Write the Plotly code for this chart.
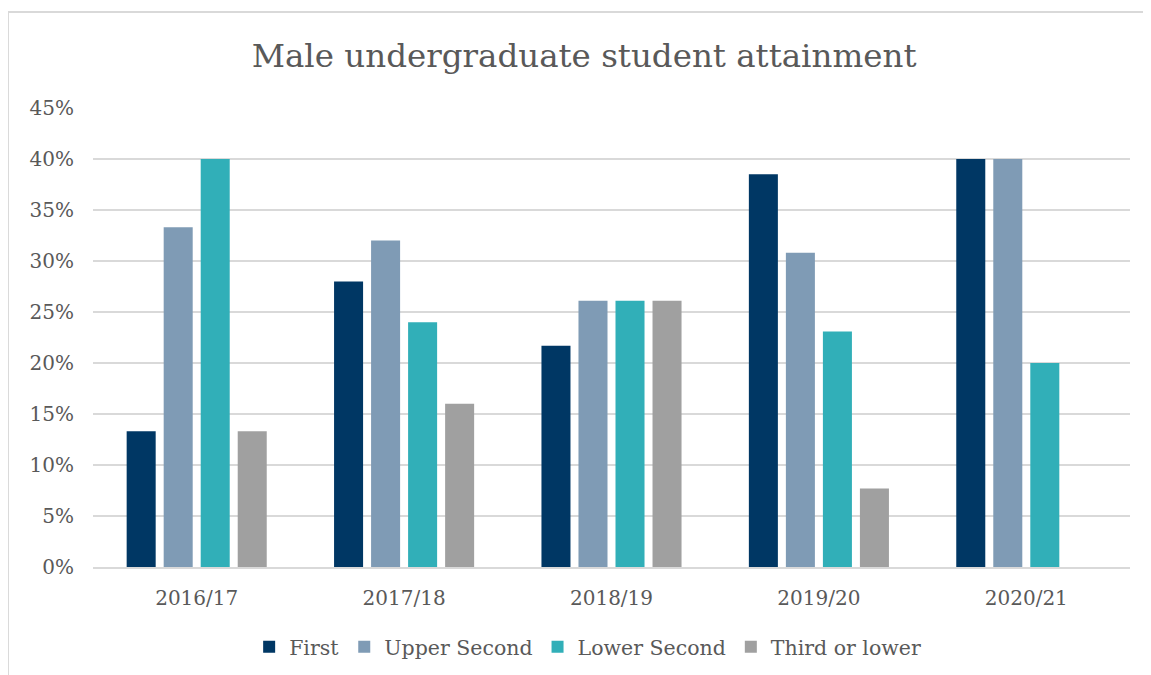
import plotly.graph_objects as go

years = ["2016/17", "2017/18", "2018/19", "2019/20", "2020/21"]
first = [13.3, 28.0, 21.7, 38.5, 40.0]
upper_second = [33.3, 32.0, 26.1, 30.8, 40.0]
lower_second = [40.0, 24.0, 26.1, 23.1, 20.0]
third_or_lower = [13.3, 16.0, 26.1, 7.7, 0.0]

series_names = ["First", "Upper Second", "Lower Second", "Third or lower"]
series_values = [first, upper_second, lower_second, third_or_lower]
colors = ["#003764", "#7f9bb5", "#31afb8", "#a0a0a0"]

font_family = "DejaVu Serif, Liberation Serif, serif"
text_color = "#595959"

fig = go.Figure()
for name, vals, col in zip(series_names, series_values, colors):
    fig.add_trace(go.Bar(x=years, y=[v / 100 for v in vals], name=name,
                         marker=dict(color=col, line=dict(width=0))))

fig.update_layout(
    width=1151, height=675,
    paper_bgcolor="white", plot_bgcolor="white",
    barmode="group", bargap=0.286, bargroupgap=0.216,
    margin=dict(l=85, r=29, t=100, b=116),
    title=dict(text="Male undergraduate student attainment", x=0.5005, xanchor="center",
               y=0.930, yanchor="middle",
               font=dict(family=font_family, size=32.5, color=text_color)),
    font=dict(family=font_family, color=text_color, size=20),
    xaxis=dict(showgrid=False, showline=True, linecolor="#d9d9d9", linewidth=2,
               ticks="", ticklabelstandoff=12, tickfont=dict(size=20, color=text_color)),
    yaxis=dict(range=[0, 0.45], dtick=0.05, tickformat=".0%", showgrid=True,
               gridcolor="#d9d9d9", gridwidth=1.5, zeroline=False, ticks="",
               ticklabelstandoff=18, tickfont=dict(size=20, color=text_color)),
    legend=dict(orientation="h", x=0.477, xanchor="center", y=-0.174, yanchor="middle",
                font=dict(size=20.5, color=text_color), itemwidth=30, traceorder="normal"),
    shapes=[dict(type="rect", xref="paper", yref="paper", x0=-0.082, x1=1.2,
                 y0=-0.4, y1=1.209, line=dict(color="#d9d9d9", width=2), layer="below")],
)

fig.write_html("out.html")
